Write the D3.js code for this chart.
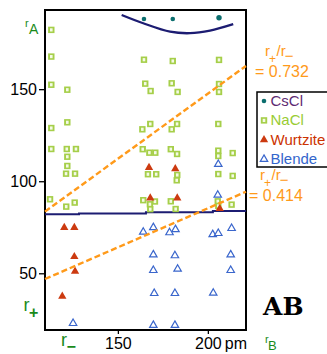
<!DOCTYPE html>
<html><head><meta charset="utf-8">
<script src="https://cdn.jsdelivr.net/npm/d3@7"></script>
<style>html,body{margin:0;padding:0;background:#fff;}svg{display:block;font-family:"Liberation Sans",Arial,Helvetica,sans-serif;}</style>
</head><body>
<script>
// ---- data ----
const xTicks = [150, 200];
const yTicks = [50, 100, 150];
const seriesNames = ["CsCl", "NaCl", "Wurtzite", "Blende"];
const cscl = [[164.5,188.1],[180.5,188.1],[206.2,188.8]];
const nacl = [
 [113.0,182.2],[113.0,167.7],[113.0,152.4],[121.9,149.7],[121.9,132.0],
 [164.5,166.0],[180.5,165.3],[206.2,165.9],[165.2,153.0],[168.2,149.0],
 [179.9,153.2],[183.2,148.5],[206.2,152.8],[206.2,148.5],[168.0,131.1],
 [182.9,131.1],[205.8,131.1],[113.0,128.9],[163.6,128.2],[179.9,128.2],
 [113.0,117.5],[121.6,117.5],[126.7,117.5],[121.9,113.3],[121.9,108.3],
 [121.2,104.1],[126.2,104.1],[163.8,117.4],[167.5,115.5],[170.8,115.5],
 [179.4,117.4],[182.9,114.8],[205.8,116.6],[205.8,113.7],[213.8,115.3],
 [166.7,103.8],[171.3,103.8],[183.0,103.4],[182.7,100.5],[205.8,103.9],
 [213.8,102.9],[112.3,90.2],[121.3,86.2],[126.0,88.4],[164.1,89.7],
 [167.8,87.5],[170.6,89.0],[168.0,84.8],[179.4,89.1],[182.1,84.9],
 [205.5,89.1],[205.8,86.6],[213.2,87.3]
];
const wurtzite = [
 [167.3,107.4],[181.9,106.7],[168.0,90.9],[183.0,90.9],[206.6,85.1],
 [120.2,74.8],[125.8,74.8],[125.8,59.0],[126.2,51.1],[119.1,37.5]
];
const blende = [
 [205.8,109.2],[205.5,92.5],[169.7,74.9],[182.0,73.8],[213.2,74.4],
 [164.1,72.4],[178.7,72.1],[202.7,71.1],[205.8,71.7],
 [169.7,60.1],[181.7,59.6],[212.7,60.1],[169.7,51.6],[183.2,52.3],[212.7,51.6],
 [170.2,39.1],[181.7,39.1],[203.0,39.3],[125.1,22.8],[169.7,21.8],[181.7,21.8]
];
const arcCurve = [[152.1,190.3],[164.1,185.8],[179.0,181.2],[190.1,180.4],[201.2,181.8],[214.1,185.3]];
const borderLine = [[109.5,82.0],[128.4,82.5],[165.6,83.1],[202.8,83.8],[221.2,83.8]];
const ratio732 = [[109.5,83.5],[221.2,162.6]];
const ratio414 = [[109.5,46.9],[221.2,94.3]];
const ratioLabels = ["0.732", "0.414"];

// ---- drawing ----
const W = 327, H = 354;
const svg = d3.select("body").append("svg").attr("width", W).attr("height", H);
svg.append("rect").attr("width", W).attr("height", H).attr("fill", "#fff");

const x = d3.scaleLinear().domain([109.5, 221.2]).range([45, 246]);
const y = d3.scaleLinear().domain([19.2, 193]).range([330, 10]);

const navy = "#1c1c72", orange = "#ff9a1a", green = "#1a8a1a";
const colors = {CsCl:"#0b6e6e", NaCl:"#a6cf4a", Wurtzite:"#cc3a10", Blende:"#3a66cc"};
const textColors = {CsCl:"#5e2a72", NaCl:"#99cc33", Wurtzite:"#cc3300", Blende:"#3366cc"};

// axes
const yAxis = d3.axisLeft(y).tickValues(yTicks).tickSize(6).tickPadding(2).tickFormat(d3.format("d"));
const gy = svg.append("g").attr("transform", `translate(${x.range()[0]},0)`).call(yAxis);
gy.select(".domain").remove();
gy.selectAll("text").attr("font-size", 16).attr("fill", "#000").attr("font-family", "Liberation Sans, Arial, sans-serif");
gy.selectAll("line").attr("stroke", "#000").attr("stroke-width", 1.3);

const xAxis = d3.axisBottom(x).tickValues(xTicks).tickSize(4).tickPadding(3.5).tickFormat(d3.format("d"));
const gx = svg.append("g").attr("transform", `translate(0,${y.range()[0]})`).call(xAxis);
gx.select(".domain").remove();
gx.selectAll("text").attr("font-size", 16).attr("fill", "#000").attr("font-family", "Liberation Sans, Arial, sans-serif");
gx.selectAll("line").attr("stroke", "#000").attr("stroke-width", 1.3);
svg.append("text").attr("x", x(xTicks[1]) + 17).attr("y", 349).attr("font-size", 16).text("pm");

// frame
svg.append("rect").attr("x", x.range()[0]).attr("y", y.range()[1])
  .attr("width", x.range()[1] - x.range()[0]).attr("height", y.range()[0] - y.range()[1])
  .attr("fill", "none").attr("stroke", "#000").attr("stroke-width", 2);

// navy lines
svg.append("path").datum(arcCurve).attr("d", d3.line().x(d => x(d[0])).y(d => y(d[1])).curve(d3.curveCatmullRom)).attr("fill","none").attr("stroke", navy).attr("stroke-width", 2.3);
svg.append("path").datum(borderLine).attr("d", d3.line().x(d => x(d[0])).y(d => y(d[1])).curve(d3.curveStepAfter)).attr("fill","none").attr("stroke", navy).attr("stroke-width", 2);

// markers
function square(g, cx, cy) {
  g.append("rect").attr("x", cx - 3.2).attr("y", cy - 3.2).attr("width", 6.4).attr("height", 6.4).attr("fill", colors.NaCl);
  g.append("rect").attr("x", cx - 1.3).attr("y", cy - 1.6).attr("width", 2.6).attr("height", 3.2).attr("fill", "#f4fae6");
}
const tri = d3.symbol().type(d3.symbolTriangle);
function redTri(g, cx, cy) {
  g.append("path").attr("d", tri.size(30)()).attr("transform", `translate(${cx},${cy})`).attr("fill", colors.Wurtzite);
}
function blueTri(g, cx, cy) {
  g.append("path").attr("d", tri.size(24)()).attr("transform", `translate(${cx},${cy})`).attr("fill", "#fff").attr("stroke", colors.Blende).attr("stroke-width", 1.2);
}
function dot(g, cx, cy, r) {
  g.append("circle").attr("cx", cx).attr("cy", cy).attr("r", r).attr("fill", colors.CsCl);
}

const pts = svg.append("g");
nacl.forEach(d => square(pts, x(d[0]), y(d[1])));
wurtzite.forEach(d => redTri(pts, x(d[0]), y(d[1])));
blende.forEach(d => blueTri(pts, x(d[0]), y(d[1])));
cscl.forEach((d, i) => dot(pts, x(d[0]), y(d[1]), i === 2 ? 2.7 : 2.3));

// orange ratio lines
[ratio732, ratio414].forEach(r => {
  svg.append("path").datum(r).attr("d", d3.line().x(d => x(d[0])).y(d => y(d[1]))).attr("fill","none")
    .attr("stroke", orange).attr("stroke-width", 2.4).attr("stroke-dasharray", "6,3");
});

// ratio labels
function ratioLabel(rx, ry, ex, ey, val) {
  const g = svg.append("g").attr("fill", orange);
  const t = g.append("text").attr("x", rx).attr("y", ry).attr("font-size", 15);
  t.append("tspan").text("r");
  t.append("tspan").attr("dx", -1).attr("dy", 7).attr("font-size", 12).text("+");
  t.append("tspan").attr("dx", 0.5).attr("dy", -7).text("/r");
  t.append("tspan").attr("dx", -1).attr("dy", 5).text("\u2212");
  g.append("text").attr("x", ex).attr("y", ey).attr("font-size", 16).text("= " + val);
}
ratioLabel(265, 55.5, 255, 77, ratioLabels[0]);
ratioLabel(260, 179.5, 249, 201, ratioLabels[1]);

// legend
const lg = svg.append("g");
lg.append("rect").attr("x", 257).attr("y", 92).attr("width", 85).attr("height", 75).attr("fill", "#fff").attr("stroke", "#000").attr("stroke-width", 1.5);
seriesNames.forEach((n, i) => {
  const by = 106 + i * 19.4;
  const cy = by - 5;
  if (n === "CsCl") dot(lg, 264, cy, 2.3);
  if (n === "NaCl") square(lg, 264, cy);
  if (n === "Wurtzite") redTri(lg, 264, cy);
  if (n === "Blende") blueTri(lg, 264, cy);
  lg.append("text").attr("x", 270.5).attr("y", by).attr("font-size", 15).attr("fill", textColors[n]).text(n);
});

// axis name labels
function subLabel(x0, y0, s1, s2, f1, f2, dx, dy, bold) {
  const t = svg.append("text").attr("x", x0).attr("y", y0).attr("fill", green);
  t.append("tspan").attr("font-size", f1).text(s1);
  t.append("tspan").attr("font-size", f2).attr("dx", dx).attr("dy", dy).attr("font-weight", bold ? "bold" : null).text(s2);
}
subLabel(25, 27.3, "r", "A", 11, 14, 0.3, 7, false);
subLabel(265, 343.3, "r", "B", 11, 13, -0.6, 6.7, false);
subLabel(23.5, 310.7, "r", "+", 18, 16, -0.5, 7.1, true);
subLabel(61, 346, "r", "\u2212", 18, 16, -0.5, 6, true);

// AB
svg.append("text").attr("x", 263).attr("y", 315).attr("font-size", 25).attr("font-weight", "bold")
  .attr("font-family", "DejaVu Serif, serif").attr("fill", "#000").text("AB");
</script>
</body></html>
